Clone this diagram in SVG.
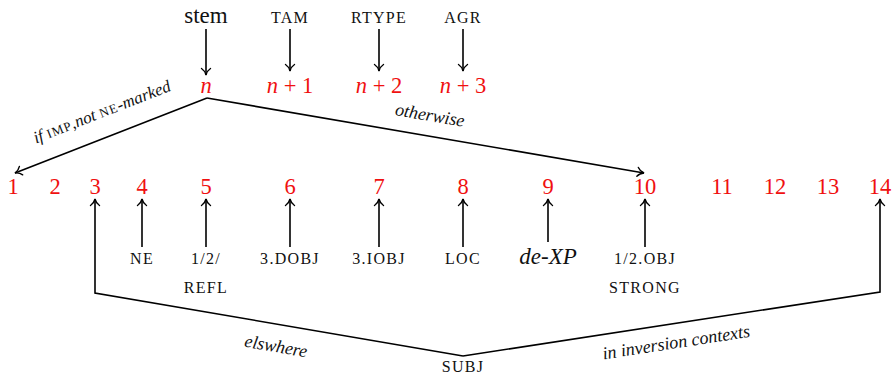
<svg xmlns="http://www.w3.org/2000/svg" width="895" height="377" viewBox="0 0 895 377">
<defs>
<marker id="ah" markerUnits="userSpaceOnUse" viewBox="-8 -6 10 12" refX="0" refY="0" markerWidth="10" markerHeight="12" orient="auto">
<path d="M -6.5,-4.5 C -5,-2.2 -2.5,-0.6 0,0 C -2.5,0.6 -5,2.2 -6.5,4.5" fill="none" stroke="#000" stroke-width="1.4" stroke-linecap="round"/>
</marker>
<style>
.con{fill:none;stroke:#000;stroke-width:1.6}
.arr{marker-end:url(#ah)}
</style>
</defs>
<g font-family="Liberation Serif" text-anchor="middle" fill="#111">
<g id="top-labels" font-size="16" letter-spacing="1.3">
<g id="stem"><text x="206" y="23" font-size="23" letter-spacing="0">stem</text></g>
<g id="tam"><text x="290" y="23">TAM</text></g>
<g id="rtype"><text x="379" y="23">RTYPE</text></g>
<g id="agr"><text x="463" y="23">AGR</text></g>
</g>
<g id="top-slots" font-size="22.5" fill="#f01010">
<g id="n"><text x="206" y="93" font-style="italic">n</text></g>
<g id="n1"><text x="290" y="93"><tspan font-style="italic">n</tspan> + 1</text></g>
<g id="n2"><text x="379" y="93"><tspan font-style="italic">n</tspan> + 2</text></g>
<g id="n3"><text x="463" y="93"><tspan font-style="italic">n</tspan> + 3</text></g>
</g>
<g id="slots" font-size="22.5" fill="#f01010">
<g id="s1"><text x="13" y="194">1</text></g>
<g id="s2"><text x="55" y="194">2</text></g>
<g id="s3"><text x="95" y="194">3</text></g>
<g id="s4"><text x="142" y="194">4</text></g>
<g id="s5"><text x="206" y="194">5</text></g>
<g id="s6"><text x="290" y="194">6</text></g>
<g id="s7"><text x="379" y="194">7</text></g>
<g id="s8"><text x="463" y="194">8</text></g>
<g id="s9"><text x="548" y="194">9</text></g>
<g id="s10"><text x="645" y="194">10</text></g>
<g id="s11"><text x="722" y="194">11</text></g>
<g id="s12"><text x="775" y="194">12</text></g>
<g id="s13"><text x="828" y="194">13</text></g>
<g id="s14"><text x="880" y="194">14</text></g>
</g>
<g id="bottom-labels" font-size="16" letter-spacing="1.3">
<g id="ne"><text x="142" y="264">NE</text></g>
<g id="refl"><text x="206" y="264">1/2/</text><text x="206" y="293">REFL</text></g>
<g id="dobj"><text x="290" y="264">3.DOBJ</text></g>
<g id="iobj"><text x="379" y="264">3.IOBJ</text></g>
<g id="loc"><text x="463" y="264">LOC</text></g>
<g id="dexp"><text x="548" y="264" font-style="italic" font-size="23" letter-spacing="0">de-XP</text></g>
<g id="obj"><text x="645" y="264">1/2.OBJ</text><text x="645" y="293">STRONG</text></g>
<g id="subj"><text x="463" y="372">SUBJ</text></g>
</g>
<g id="connectors">
<line class="con arr" x1="206" y1="29" x2="206" y2="75"/>
<line class="con arr" x1="290" y1="29" x2="290" y2="71"/>
<line class="con arr" x1="379" y1="29" x2="379" y2="71"/>
<line class="con arr" x1="463" y1="29" x2="463" y2="71"/>
<polyline class="con arr" points="207,98 15,173"/>
<polyline class="con arr" points="207,98 644,173"/>
<line class="con arr" x1="142" y1="247" x2="142" y2="199"/>
<line class="con arr" x1="206" y1="247" x2="206" y2="199"/>
<line class="con arr" x1="290" y1="247" x2="290" y2="199"/>
<line class="con arr" x1="379" y1="247" x2="379" y2="199"/>
<line class="con arr" x1="463" y1="247" x2="463" y2="199"/>
<line class="con arr" x1="548" y1="242" x2="548" y2="199"/>
<line class="con arr" x1="645" y1="247" x2="645" y2="199"/>
<polyline class="con arr" points="463,356 95,293 95,199"/>
<polyline class="con arr" points="463,356 880,292 880,199"/>
<g font-style="italic" font-size="18">
<text transform="translate(104,117) rotate(-21.3)" font-size="17">if <tspan font-style="normal" font-size="13" letter-spacing="1">IMP</tspan>,not <tspan font-style="normal" font-size="13" letter-spacing="1">NE</tspan>-marked</text>
<text transform="translate(429,121) rotate(9.7)">otherwise</text>
<text transform="translate(275,352) rotate(9.9)">elswhere</text>
<text transform="translate(677,348) rotate(-8.8)">in inversion contexts</text>
</g>
</g>
</g>
</svg>
